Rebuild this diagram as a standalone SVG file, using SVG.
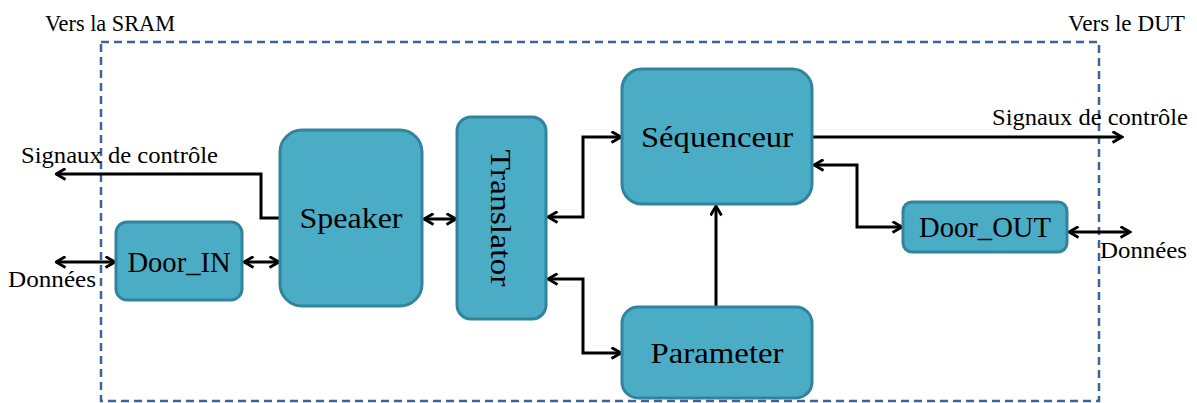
<svg xmlns="http://www.w3.org/2000/svg" width="1197" height="403" viewBox="0 0 1197 403">
<style>
.node{fill:#4bacc6;stroke:#31849b;stroke-width:3}
.lbl{font-family:"Liberation Serif","DejaVu Serif",serif;font-size:24px;fill:#000}
.nlbl{font-family:"Liberation Serif","DejaVu Serif",serif;font-size:30px;fill:#000;text-anchor:middle}
.c{fill:none;stroke:#000;stroke-width:3}
</style>
<defs>
<marker id="a" viewBox="0 0 13 13" refX="11.5" refY="6.5" markerWidth="13" markerHeight="13" markerUnits="userSpaceOnUse" orient="auto-start-reverse">
<path d="M2,1 L11.5,6.5 L2,12" fill="none" stroke="#000" stroke-width="2.8"/>
</marker>
</defs>
<rect x="101" y="42" width="998" height="359" fill="none" stroke="#3d6499" stroke-width="2.5" stroke-dasharray="8 5"/>
<text class="lbl" x="45" y="31" textLength="130" lengthAdjust="spacingAndGlyphs">Vers la SRAM</text>
<text class="lbl" x="1068" y="31" textLength="117" lengthAdjust="spacingAndGlyphs">Vers le DUT</text>
<g id="connectors">
<polyline class="c" points="280,218 261,218 261,174 56,174" marker-end="url(#a)"/>
<line class="c" x1="56" y1="262" x2="115" y2="262" marker-start="url(#a)" marker-end="url(#a)"/>
<line class="c" x1="244" y1="262" x2="279" y2="262" marker-start="url(#a)" marker-end="url(#a)"/>
<line class="c" x1="424" y1="219" x2="456" y2="219" marker-start="url(#a)" marker-end="url(#a)"/>
<polyline class="c" points="548,217 583,217 583,137 621,137" marker-start="url(#a)" marker-end="url(#a)"/>
<polyline class="c" points="548,279 583,279 583,353 621,353" marker-start="url(#a)" marker-end="url(#a)"/>
<line class="c" x1="716" y1="307" x2="716" y2="206" marker-end="url(#a)"/>
<line class="c" x1="812" y1="137" x2="1122" y2="137" marker-end="url(#a)"/>
<polyline class="c" points="814,165 857,165 857,227 902,227" marker-start="url(#a)" marker-end="url(#a)"/>
<line class="c" x1="1069" y1="232" x2="1130" y2="232" marker-start="url(#a)" marker-end="url(#a)"/>
</g>
<text class="lbl" x="21" y="163" textLength="197" lengthAdjust="spacingAndGlyphs">Signaux de contrôle</text>
<text class="lbl" x="8" y="287" textLength="88" lengthAdjust="spacingAndGlyphs">Données</text>
<text class="lbl" x="992" y="125" textLength="196" lengthAdjust="spacingAndGlyphs">Signaux de contrôle</text>
<text class="lbl" x="1100" y="258" textLength="87" lengthAdjust="spacingAndGlyphs">Données</text>
<g id="door_in">
<rect class="node" x="116" y="222" width="126" height="78" rx="11"/>
<text class="nlbl" x="179" y="272" textLength="103" lengthAdjust="spacingAndGlyphs">Door_IN</text>
</g>
<g id="speaker">
<rect class="node" x="280" y="130" width="142" height="176" rx="22"/>
<text class="nlbl" x="351" y="228" textLength="103" lengthAdjust="spacingAndGlyphs">Speaker</text>
</g>
<g id="translator">
<rect class="node" x="457" y="117" width="89" height="202" rx="14"/>
<text class="nlbl" transform="translate(491,218) rotate(90)" x="0" y="0" textLength="137" lengthAdjust="spacingAndGlyphs">Translator</text>
</g>
<g id="sequenceur">
<rect class="node" x="622" y="69" width="190" height="135" rx="20"/>
<text class="nlbl" x="717" y="147" textLength="152" lengthAdjust="spacingAndGlyphs">Séquenceur</text>
</g>
<g id="parameter">
<rect class="node" x="622" y="307" width="190" height="91" rx="16"/>
<text class="nlbl" x="717" y="363" textLength="133" lengthAdjust="spacingAndGlyphs">Parameter</text>
</g>
<g id="door_out">
<rect class="node" x="903" y="202" width="164" height="50" rx="9"/>
<text class="nlbl" x="985" y="237" textLength="132" lengthAdjust="spacingAndGlyphs">Door_OUT</text>
</g>
</svg>
